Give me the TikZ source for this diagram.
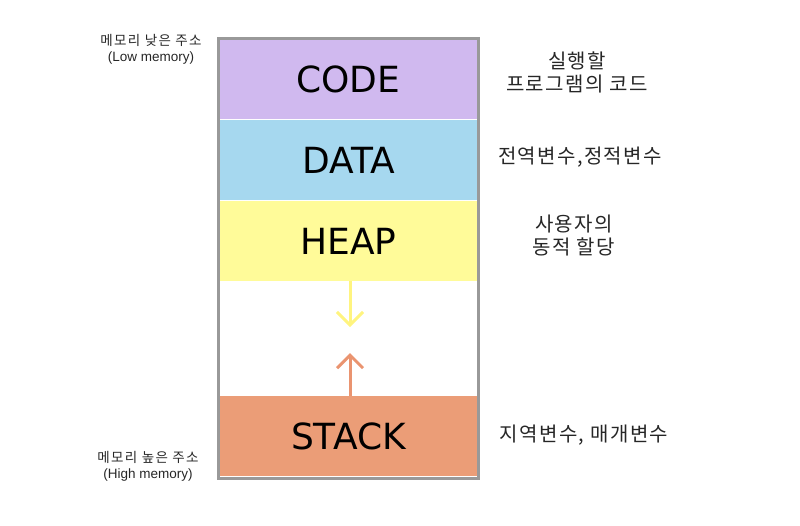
\documentclass[tikz,border=0pt]{standalone}
\usepackage{fontspec}
\setmainfont{DejaVu Sans}
\newfontfamily\krl[LetterSpace=7]{Noto Sans CJK KR}
\newfontfamily\krs[LetterSpace=10]{Noto Sans CJK KR}
\newfontfamily\arialike{Liberation Sans}
\usetikzlibrary{arrows.meta}
\definecolor{codec}{HTML}{D0B9EF}
\definecolor{datac}{HTML}{A6D8EF}
\definecolor{heapc}{HTML}{FFFB99}
\definecolor{stackc}{HTML}{EB9D77}
\definecolor{heaparrow}{HTML}{FFF47F}
\definecolor{stackarrow}{HTML}{EA9470}
\definecolor{bordc}{HTML}{999999}
\begin{document}
\begin{tikzpicture}[x=1pt,y=-1pt,
  seg/.style={draw=none,minimum width=257pt,minimum height=80pt,inner sep=0pt,font=\fontsize{36}{40}\selectfont},
  side/.style={font=\krl\fontsize{20}{23}\selectfont,align=center,text=black!85},
  small/.style={font=\fontsize{13.5}{16}\selectfont,align=center,text=black!85},
  growarrow/.style={line width=3pt,-{Straight Barb[length=13pt,width=26pt,line width=3pt]}}]
\useasboundingbox (0,0) rectangle (800,525);
\node[seg,fill=codec] (code) at (348.5,79) {CODE};
\node[seg,fill=datac] (data) at (348.5,160) {DATA};
\node[seg,fill=heapc] (heap) at (348.5,241) {HEAP};
\node[seg,fill=stackc] (stack) at (348.5,436) {STACK};
\coordinate (hend) at (350,327);
\coordinate (send) at (350,353);
\draw[growarrow,heaparrow] (heap.south -| hend) -- (hend);
\draw[growarrow,stackarrow] (stack.north -| send) -- (send);
\node[draw=bordc,line width=3pt,minimum width=260pt,minimum height=440pt,inner sep=0pt] (mem) at (348.5,258.5) {};
\node[small] (low) at (151,49) {{\krs 메모리 낮은 주소}\\{\arialike (Low memory)}};
\node[small] (high) at (148,466.5) {{\krs 메모리 높은 주소}\\{\arialike (High memory)}};
\node[side] (codel) at (577,72.5) {실행할\\프로그램의 코드};
\node[side] (datal) at (580,157) {전역변수,정적변수};
\node[side] (heapl) at (574,235.5) {사용자의\\동적 할당};
\node[side] (stackl) at (584,435) {지역변수, 매개변수};
\end{tikzpicture}
\end{document}
